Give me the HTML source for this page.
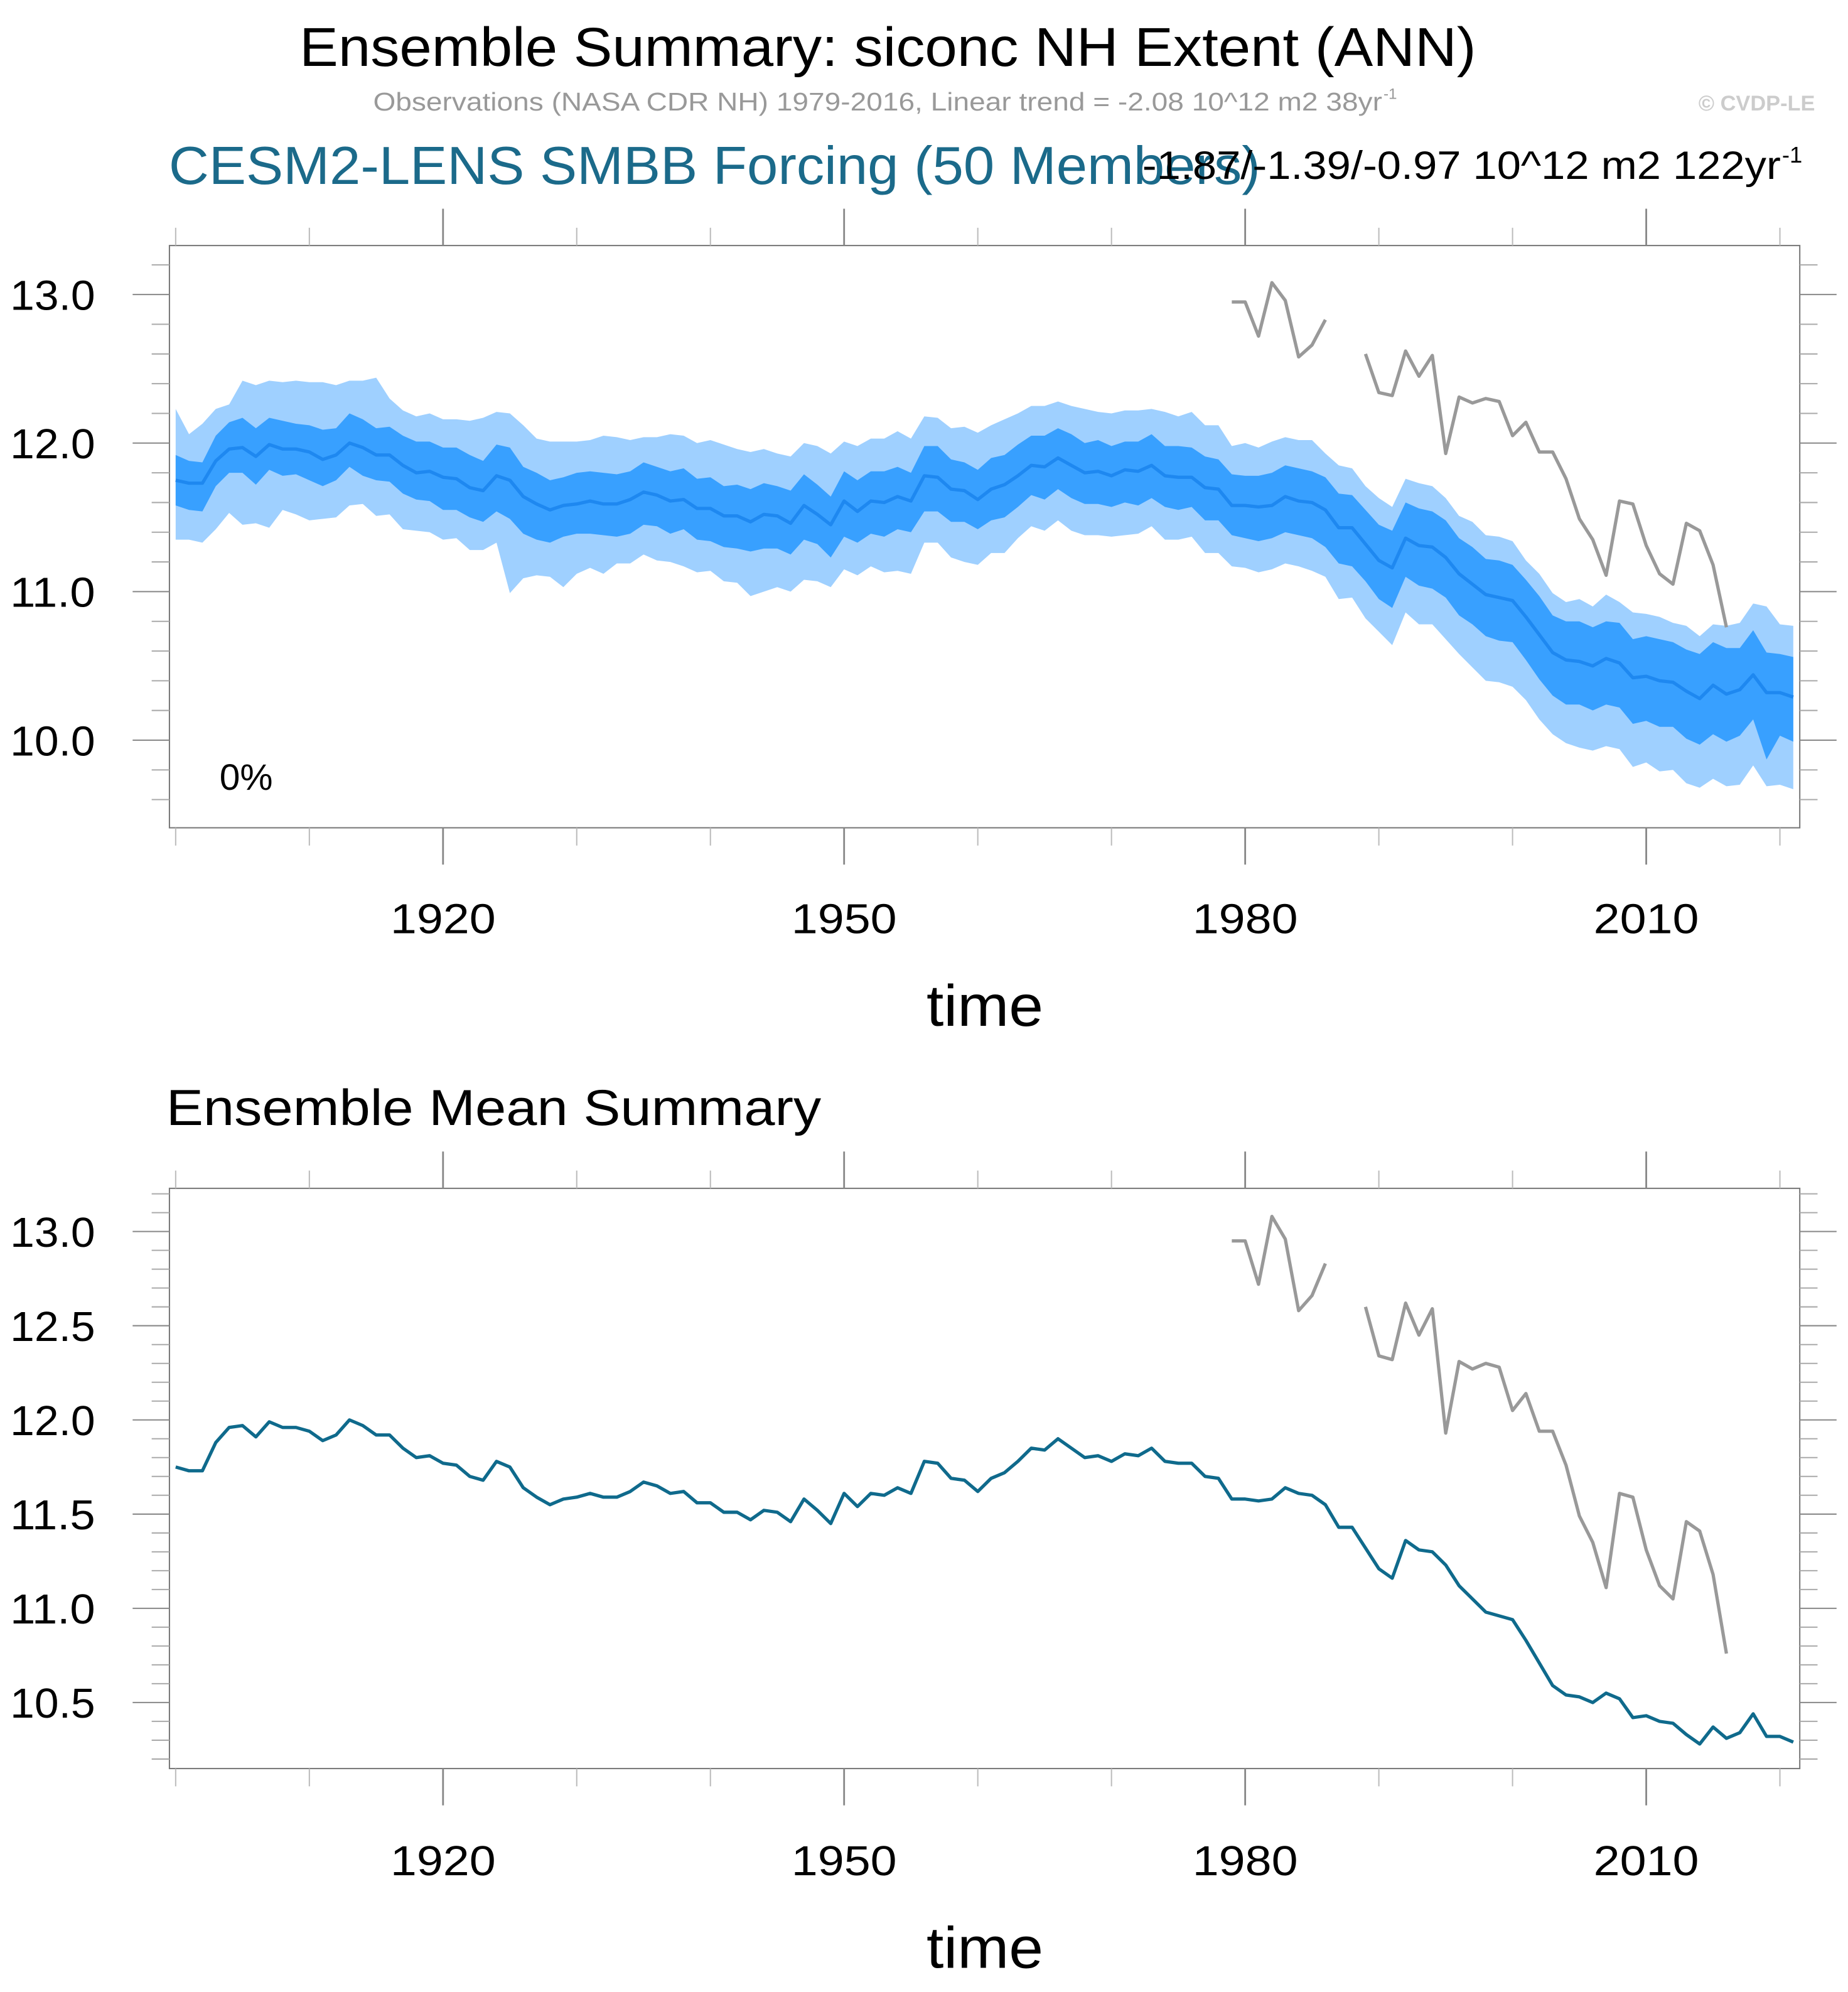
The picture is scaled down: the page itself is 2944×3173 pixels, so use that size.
<!DOCTYPE html>
<html><head><meta charset="utf-8"><style>
html,body{margin:0;padding:0;background:#fff;}
svg{display:block;}
text{font-family:"Liberation Sans",sans-serif;}
</style></head><body>
<svg id="chart" width="2944" height="3173" viewBox="0 0 1456 1569" preserveAspectRatio="none" xmlns="http://www.w3.org/2000/svg">
<text x="236" y="52" font-size="43" textLength="927" lengthAdjust="spacingAndGlyphs" fill="#000">Ensemble Summary: siconc NH Extent (ANN)</text>
<text x="294" y="87" font-size="20" textLength="795" lengthAdjust="spacingAndGlyphs" fill="#999">Observations (NASA CDR NH) 1979-2016, Linear trend = -2.08 10^12 m2 38yr</text>
<text x="1090" y="78" font-size="12" fill="#999">-1</text>
<text x="1430" y="87" font-size="17" font-weight="bold" fill="#ccc" text-anchor="end">© CVDP-LE</text>
<text x="133" y="145" font-size="42" textLength="860" lengthAdjust="spacingAndGlyphs" fill="#1b6a8a">CESM2-LENS SMBB Forcing (50 Members)</text>
<text x="900" y="141" font-size="31" textLength="503" lengthAdjust="spacingAndGlyphs" fill="#000">-1.87/-1.39/-0.97 10^12 m2 122yr</text>
<text x="1404" y="128" font-size="18" fill="#000">-1</text>
<text x="173" y="622" font-size="29" fill="#000">0%</text>
<text x="776" y="808" font-size="46" textLength="92" lengthAdjust="spacingAndGlyphs" text-anchor="middle" fill="#000">time</text>
<text x="131" y="886" font-size="40" textLength="516" lengthAdjust="spacingAndGlyphs" fill="#000">Ensemble Mean Summary</text>
<text x="776" y="1550" font-size="46" textLength="92" lengthAdjust="spacingAndGlyphs" text-anchor="middle" fill="#000">time</text>
<g id="top"></g>
<g id="bot"></g>
</svg>
<script>
const years = [];
for (let y = 1900; y <= 2021; y++) years.push(y);
const ensMean = [
11.75,11.73,11.73,11.88,11.96,11.97,11.91,11.99,11.96,11.96,11.94,11.89,11.92,12.00,11.97,11.92,11.92,11.85,11.80,11.81,
11.77,11.76,11.70,11.68,11.78,11.75,11.64,11.59,11.55,11.58,11.59,11.61,11.59,11.59,11.62,11.67,11.65,11.61,11.62,11.56,
11.56,11.51,11.51,11.47,11.52,11.51,11.46,11.58,11.52,11.45,11.61,11.54,11.61,11.60,11.64,11.61,11.78,11.77,11.69,11.68,
11.62,11.69,11.72,11.78,11.85,11.84,11.90,11.85,11.80,11.81,11.78,11.82,11.81,11.85,11.78,11.77,11.77,11.70,11.69,11.58,
11.58,11.57,11.58,11.64,11.61,11.60,11.55,11.43,11.43,11.32,11.21,11.16,11.36,11.31,11.30,11.23,11.12,11.05,10.98,10.96,
10.94,10.83,10.71,10.59,10.54,10.53,10.50,10.55,10.52,10.42,10.43,10.40,10.39,10.33,10.28,10.37,10.31,10.34,10.44,10.32,10.32,10.29];
const darkUp = [
.17,.15,.14,.17,.18,.20,.19,.18,.19,.17,.18,.20,.18,.20,.19,.18,.19,.20,.21,.20,
.20,.21,.22,.20,.21,.22,.20,.21,.20,.19,.21,.20,.21,.20,.19,.20,.19,.20,.21,.20,
.21,.20,.21,.22,.21,.20,.22,.21,.20,.19,.20,.21,.20,.21,.20,.19,.20,.21,.20,.19,
.20,.21,.20,.21,.20,.21,.20,.21,.20,.21,.20,.19,.20,.21,.20,.21,.20,.21,.20,.21,
.20,.21,.22,.21,.22,.21,.22,.23,.22,.23,.24,.25,.24,.25,.24,.25,.24,.25,.24,.25,
.24,.25,.26,.25,.26,.27,.26,.25,.27,.26,.27,.28,.27,.28,.30,.29,.31,.28,.30,.27,.26,.27];
const darkDn = [
.17,.18,.19,.17,.16,.17,.19,.17,.18,.17,.19,.18,.17,.16,.19,.17,.18,.19,.18,.20,
.22,.21,.20,.21,.24,.26,.25,.24,.22,.21,.20,.22,.21,.22,.23,.22,.21,.22,.20,.21,
.22,.21,.22,.20,.23,.22,.21,.23,.20,.22,.24,.21,.22,.23,.22,.21,.24,.23,.22,.21,
.20,.21,.22,.21,.20,.22,.21,.22,.21,.22,.21,.22,.23,.22,.21,.22,.20,.22,.21,.20,
.22,.23,.22,.24,.23,.24,.25,.24,.26,.25,.26,.27,.26,.27,.28,.27,.28,.27,.28,.29,
.28,.29,.30,.29,.30,.29,.30,.31,.30,.31,.30,.31,.30,.32,.31,.33,.32,.31,.30,.45,.29,.30];
const lightUp = [
.48,.33,.40,.35,.30,.45,.48,.43,.45,.46,.47,.52,.47,.42,.45,.52,.38,.37,.38,.39,
.39,.40,.45,.49,.43,.45,.48,.44,.46,.43,.42,.41,.46,.45,.40,.37,.39,.45,.43,.44,
.46,.48,.45,.47,.44,.42,.45,.42,.46,.48,.40,.44,.42,.43,.44,.42,.40,.40,.41,.43,
.45,.43,.44,.42,.40,.41,.38,.40,.43,.40,.42,.40,.41,.38,.43,.41,.44,.42,.43,.40,
.42,.40,.43,.40,.41,.42,.38,.42,.40,.39,.42,.41,.40,.42,.41,.40,.39,.42,.40,.41,
.40,.38,.41,.40,.39,.42,.40,.43,.41,.44,.42,.43,.40,.44,.42,.41,.46,.45,.48,.58,.46,.48];
const lightDn = [
.40,.38,.40,.46,.43,.52,.45,.56,.41,.44,.46,.40,.42,.42,.38,.41,.40,.43,.39,.41,
.42,.40,.42,.40,.45,.76,.55,.48,.45,.55,.47,.45,.47,.40,.43,.42,.44,.41,.45,.43,
.42,.44,.45,.50,.52,.48,.46,.50,.45,.42,.46,.43,.44,.47,.50,.49,.45,.44,.46,.48,
.44,.43,.46,.42,.41,.43,.42,.44,.42,.43,.41,.44,.42,.41,.43,.42,.40,.44,.43,.41,
.42,.44,.43,.45,.44,.46,.45,.48,.47,.50,.48,.52,.50,.53,.52,.55,.54,.56,.58,.57,
.58,.56,.57,.55,.56,.58,.57,.59,.58,.60,.58,.61,.59,.62,.60,.63,.62,.64,.61,.63,.62,.62];
const obsYears = [1979,1980,1981,1982,1983,1984,1985,1986,1987,1988,1989,1990,1991,1992,1993,1994,1995,1996,1997,1998,1999,2000,2001,2002,2003,2004,2005,2006,2007,2008,2009,2010,2011,2012,2013,2014,2015,2016];
const obsValues = [12.95,12.95,12.72,13.08,12.96,12.58,12.66,12.83,null,null,12.60,12.34,12.32,12.62,12.45,12.59,11.93,12.31,12.27,12.30,12.28,12.05,12.14,11.94,11.94,11.76,11.49,11.35,11.11,11.61,11.59,11.31,11.12,11.05,11.46,11.41,11.18,10.76];
const xTickLabels = [1920,1950,1980,2010];
const topYLabels = ["10.0","11.0","12.0","13.0"];
const botYLabels = ["10.5","11.0","11.5","12.0","12.5","13.0"];

const NS = "http://www.w3.org/2000/svg";
function mk(parent, tag, attrs) {
  const e = document.createElementNS(NS, tag);
  for (const k in attrs) e.setAttribute(k, attrs[k]);
  parent.appendChild(e);
  return e;
}
const X0 = 133.5, X1 = 1418;
const xScale = y => 138.4 + (y - 1900) * 10.533;

function panel(g, top, bot, yAt, vMin, vMax, minorStep, labels, xLabY, bandsOn, meanColor) {
  const yScale = v => yAt.py + (yAt.v - v) * yAt.k;
  if (bandsOn) {
    const band = (up, dn, color, name) => {
      let d = "";
      years.forEach((yr, i) => { d += (i ? "L" : "M") + xScale(yr).toFixed(2) + "," + yScale(ensMean[i] + up[i]).toFixed(2); });
      for (let i = years.length - 1; i >= 0; i--) d += "L" + xScale(years[i]).toFixed(2) + "," + yScale(ensMean[i] - dn[i]).toFixed(2);
      const p = mk(g, "path", {d: d + "Z", fill: color});
      
      
    };
    band(lightUp, lightDn, "#9fd0ff", "outer-spread-band");
    band(darkUp, darkDn, "#38a0ff", "inner-spread-band");
  }
  let d = "";
  years.forEach((yr, i) => { d += (i ? "L" : "M") + xScale(yr).toFixed(2) + "," + yScale(ensMean[i]).toFixed(2); });
  const ml = mk(g, "path", {d: d, fill: "none", stroke: meanColor, "stroke-width": 2.6, "stroke-linejoin": "round"});
  
  
  let od = "", pen = false;
  obsYears.forEach((yr, i) => {
    const v = obsValues[i];
    if (v === null) { pen = false; return; }
    od += (pen ? "L" : "M") + xScale(yr).toFixed(2) + "," + yScale(v).toFixed(2);
    pen = true;
  });
  const ol = mk(g, "path", {d: od, fill: "none", stroke: "#999", "stroke-width": 2.6, "stroke-linejoin": "round"});
  
  
  const fr = mk(g, "rect", {x: X0, y: top, width: X1 - X0, height: bot - top, fill: "none", stroke: "#777", "stroke-width": 1});
  
  
  const nSteps = Math.round((vMax - vMin) / minorStep);
  for (let s = 0; s <= nSteps; s++) {
    const v = vMin + s * minorStep;
    const y = yScale(v);
    if (y < top - 0.5 || y > bot + 0.5) continue;
    const lbl = labels.indexOf(v.toFixed(1)) >= 0;
    const len = lbl ? 29 : 14;
    const c = lbl ? "#888" : "#aaa";
    const t1 = mk(g, "line", {x1: X0 - len, x2: X0, y1: y, y2: y, stroke: c, "stroke-width": 1});
    
    
    const t2 = mk(g, "line", {x1: X1, x2: X1 + len, y1: y, y2: y, stroke: c, "stroke-width": 1});
    
    
    if (lbl) {
      const tx = mk(g, "text", {x: 8, y: y + 12, "font-size": 33, textLength: 67, lengthAdjust: "spacingAndGlyphs", fill: "#000"});
      tx.textContent = v.toFixed(1);
      
      
    }
  }
  for (let yr = 1900; yr <= 2020; yr += 10) {
    const x = xScale(yr);
    const maj = xTickLabels.indexOf(yr) >= 0;
    const len = maj ? 29 : 14;
    const c = maj ? "#888" : "#bbb";
    const a = mk(g, "line", {x1: x, x2: x, y1: top - len, y2: top, stroke: c, "stroke-width": maj ? 1.4 : 1});
    
    
    const b = mk(g, "line", {x1: x, x2: x, y1: bot, y2: bot + len, stroke: c, "stroke-width": maj ? 1.4 : 1});
    
    
    if (maj) {
      const tx = mk(g, "text", {x: x - 41.5, y: xLabY, "font-size": 33, textLength: 83, lengthAdjust: "spacingAndGlyphs", fill: "#000"});
      tx.textContent = String(yr);
      
      
    }
  }
}
panel(document.getElementById("top"), 193.4, 652, {py: 232, v: 13.0, k: 117.0}, 9.4, 13.4, 0.2, topYLabels, 735, true, "#1e88f0");
panel(document.getElementById("bot"), 936, 1393, {py: 970, v: 13.0, k: 148.4}, 10.1, 13.3, 0.1, botYLabels, 1477, false, "#0f6a8c");
</script>
</body></html>
